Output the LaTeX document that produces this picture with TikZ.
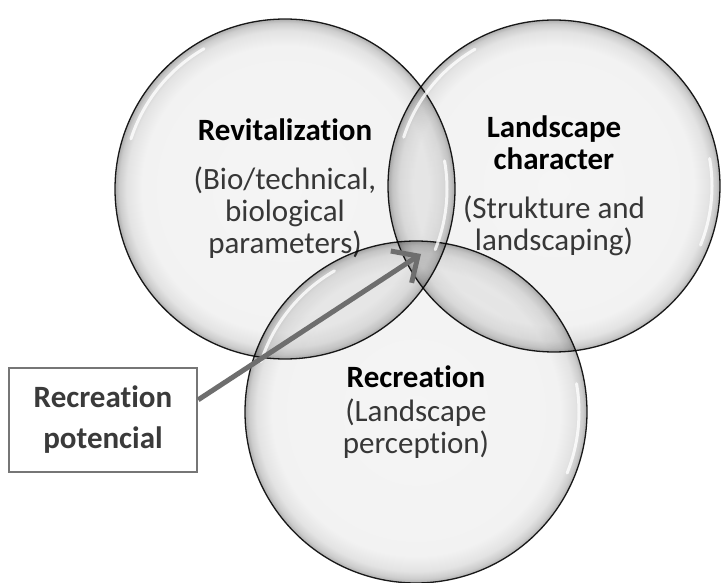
\documentclass[tikz,border=0pt]{standalone}
\usepackage{fontspec}
\setmainfont{Carlito}[RawFeature=-liga]
\usetikzlibrary{arrows.meta}

\definecolor{rimgray}{HTML}{1E1E1E}
\definecolor{subtext}{HTML}{3A3A3A}
\definecolor{boxgray}{HTML}{767676}
\definecolor{arrowgray}{HTML}{6E6E6E}

\pgfdeclareradialshading{bubble}{\pgfpoint{0bp}{0bp}}{%
  color(0bp)=(white!96!black); color(21bp)=(white!95!black);
  color(23.3bp)=(white!89!black); color(24.4bp)=(white!80!black);
  color(25bp)=(white!68!black); color(50bp)=(white!68!black)}

\tikzset{
  venn/.style={circle, inner sep=0pt, minimum size=340pt, draw=rimgray,
    line width=1.3pt, shading=bubble, blend mode=multiply, align=center,
    font=\fontsize{31}{32}\selectfont},
  shine/.style={white, line width=3pt, opacity=0.8, line cap=round},
  potbox/.style={draw=boxgray, line width=2.5pt, fill=white, minimum width=188pt,
    minimum height=104pt, align=center, text=subtext,
    font=\fontsize{31}{32}\selectfont\bfseries},
  pointer/.style={arrowgray, line width=5pt,
    -{Straight Barb[length=20pt,width=38pt,line width=5pt]}}
}

\begin{document}
\begin{tikzpicture}[x=1pt,y=1pt]
  \useasboundingbox (0,0) rectangle (721,582);
  \fill[white] (0,0) rectangle (721,582);

  % circles
  \node[venn] (revit) at (285,393)
    {\textbf{Revitalization}\\[17pt]\color{subtext}(Bio/technical,\\
     \color{subtext}biological\\ \color{subtext}parameters)};
  \node[venn, minimum size=332pt] (land) at (554,396)
    {\textbf{Landscape}\\ \textbf{character}\\[17pt]\color{subtext}(Strukture and\\
     \color{subtext}landscaping)};
  \node[venn, minimum size=342pt] (recr) at (416,170)
    {\textbf{Recreation}\\[2pt]\color{subtext}(Landscape\\ \color{subtext}perception)};

  % highlights
  \foreach \n/\r in {revit/162, land/158, recr/163}{
    \draw[shine] ([shift={(120:\r)}]\n.center) arc[start angle=120, end angle=162, radius=\r];
    \draw[shine] ([shift={(-22:\r)}]\n.center) arc[start angle=-22, end angle=10, radius=\r];
  }

  % label and arrow
  \node[potbox] (pot) at (103,162) {Recreation\\[9pt]potencial};
  \coordinate (core) at (421,328);
  \draw[pointer] (pot.12) -- (core);
\end{tikzpicture}
\end{document}
